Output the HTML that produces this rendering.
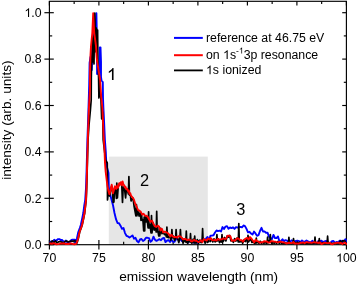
<!DOCTYPE html>
<html><head><meta charset="utf-8"><title>spectrum</title>
<style>
html,body{margin:0;padding:0;background:#fff;}
body{width:357px;height:285px;overflow:hidden;font-family:"Liberation Sans",sans-serif;}
svg{display:block;will-change:transform;}
text{font-family:"Liberation Sans",sans-serif;fill:#000;}
</style></head><body>
<svg width="357" height="285" viewBox="0 0 357 285">
<rect x="0" y="0" width="357" height="285" fill="#fff"/>
<rect x="108.8" y="156.6" width="99.0" height="88.1" fill="#e6e6e6"/>
<g stroke="#000" stroke-width="1.15" fill="none">
<rect x="49.4" y="1.3" width="297.0" height="243.39999999999998"/>
<line x1="49.40" y1="240" x2="49.40" y2="249.5"/><line x1="49.40" y1="1.3" x2="49.40" y2="5.6"/><line x1="74.15" y1="241.8" x2="74.15" y2="244.7"/><line x1="74.15" y1="1.3" x2="74.15" y2="4.0"/><line x1="98.90" y1="240" x2="98.90" y2="249.5"/><line x1="98.90" y1="1.3" x2="98.90" y2="5.6"/><line x1="123.65" y1="241.8" x2="123.65" y2="244.7"/><line x1="123.65" y1="1.3" x2="123.65" y2="4.0"/><line x1="148.40" y1="240" x2="148.40" y2="249.5"/><line x1="148.40" y1="1.3" x2="148.40" y2="5.6"/><line x1="173.15" y1="241.8" x2="173.15" y2="244.7"/><line x1="173.15" y1="1.3" x2="173.15" y2="4.0"/><line x1="197.90" y1="240" x2="197.90" y2="249.5"/><line x1="197.90" y1="1.3" x2="197.90" y2="5.6"/><line x1="222.65" y1="241.8" x2="222.65" y2="244.7"/><line x1="222.65" y1="1.3" x2="222.65" y2="4.0"/><line x1="247.40" y1="240" x2="247.40" y2="249.5"/><line x1="247.40" y1="1.3" x2="247.40" y2="5.6"/><line x1="272.15" y1="241.8" x2="272.15" y2="244.7"/><line x1="272.15" y1="1.3" x2="272.15" y2="4.0"/><line x1="296.90" y1="240" x2="296.90" y2="249.5"/><line x1="296.90" y1="1.3" x2="296.90" y2="5.6"/><line x1="321.65" y1="241.8" x2="321.65" y2="244.7"/><line x1="321.65" y1="1.3" x2="321.65" y2="4.0"/><line x1="346.40" y1="240" x2="346.40" y2="249.5"/><line x1="346.40" y1="1.3" x2="346.40" y2="5.6"/><line x1="44.4" y1="244.70" x2="53.8" y2="244.70"/><line x1="342.2" y1="244.70" x2="346.4" y2="244.70"/><line x1="49.4" y1="221.50" x2="52.2" y2="221.50"/><line x1="343.8" y1="221.50" x2="346.4" y2="221.50"/><line x1="44.4" y1="198.30" x2="53.8" y2="198.30"/><line x1="342.2" y1="198.30" x2="346.4" y2="198.30"/><line x1="49.4" y1="175.10" x2="52.2" y2="175.10"/><line x1="343.8" y1="175.10" x2="346.4" y2="175.10"/><line x1="44.4" y1="151.90" x2="53.8" y2="151.90"/><line x1="342.2" y1="151.90" x2="346.4" y2="151.90"/><line x1="49.4" y1="128.70" x2="52.2" y2="128.70"/><line x1="343.8" y1="128.70" x2="346.4" y2="128.70"/><line x1="44.4" y1="105.50" x2="53.8" y2="105.50"/><line x1="342.2" y1="105.50" x2="346.4" y2="105.50"/><line x1="49.4" y1="82.30" x2="52.2" y2="82.30"/><line x1="343.8" y1="82.30" x2="346.4" y2="82.30"/><line x1="44.4" y1="59.10" x2="53.8" y2="59.10"/><line x1="342.2" y1="59.10" x2="346.4" y2="59.10"/><line x1="49.4" y1="35.90" x2="52.2" y2="35.90"/><line x1="343.8" y1="35.90" x2="346.4" y2="35.90"/><line x1="44.4" y1="12.70" x2="53.8" y2="12.70"/><line x1="342.2" y1="12.70" x2="346.4" y2="12.70"/>
</g>
<clipPath id="cp"><rect x="49.4" y="0" width="297.5" height="250"/></clipPath>
<g fill="none" stroke-linejoin="round" stroke-linecap="round" clip-path="url(#cp)">
<path d="M49.0,241.9 L50.3,241.7 L51.6,241.8 L52.9,241.5 L54.2,239.8 L55.5,240.8 L56.8,240.2 L58.1,239.1 L59.4,239.1 L60.7,240.0 L62.0,239.9 L63.3,241.4 L64.6,242.3 L65.9,240.5 L67.2,242.2 L68.5,242.4 L69.8,242.2 L71.1,240.2 L72.4,239.7 L73.7,239.8 L75.0,239.7 L75.0,241.5 L75.6,242.5 L76.8,239.0 L78.3,232.0 L79.8,228.0 L80.8,225.0 L82.3,218.0 L83.3,213.0 L84.2,206.0 L85.2,200.0 L86.0,188.0 L86.6,170.0 L87.4,140.0 L87.9,126.0 L88.5,108.0 L89.2,85.0 L89.6,63.0 L90.5,57.0 L91.8,70.0 L92.5,45.0 L92.8,38.0 L95.6,27.0 L96.4,13.2 L96.9,40.0 L97.1,74.0 L99.2,72.0 L99.8,47.4 L100.5,47.4 L101.0,62.0 L101.0,77.0 L101.5,80.5 L102.8,82.0 L103.0,98.0 L103.4,108.0 L104.0,120.0 L104.9,140.0 L105.8,152.0 L106.3,163.0 L107.2,168.0 L108.5,173.0 L108.8,187.0 L110.0,194.0 L113.0,205.2 L114.5,213.0 L116.0,219.2 L117.5,223.0 L119.0,223.2 L120.5,225.7 L122.0,228.8 L123.5,228.0 L125.0,233.1 L126.5,235.8 L128.0,236.4 L129.5,237.5 L131.0,236.5 L132.5,235.4 L134.0,238.7 L135.5,237.8 L137.0,241.0 L138.5,242.4 L140.0,239.5 L141.5,239.0 L143.0,241.0 L144.5,239.9 L146.0,237.7 L147.5,237.8 L149.0,238.2 L150.5,241.8 L152.0,240.5 L153.5,236.7 L155.0,239.8 L156.5,240.9 L158.0,240.0 L159.5,239.2 L161.0,240.2 L162.5,238.4 L164.0,237.9 L165.5,242.1 L167.0,240.7 L168.5,240.1 L170.0,241.9 L171.5,239.8 L173.0,241.8 L174.5,241.7 L176.0,239.0 L177.5,239.3 L179.0,239.5 L180.5,239.4 L182.0,241.0 L183.5,239.6 L185.0,240.4 L186.5,239.2 L188.0,242.7 L189.5,240.3 L191.0,240.8 L192.5,241.4 L194.0,242.8 L195.5,240.7 L197.0,242.8 L198.5,241.0 L200.0,241.1 L201.5,240.9 L203.0,238.5 L204.5,240.1 L206.0,238.7 L207.5,236.9 L209.0,240.3 L210.5,235.6 L212.0,235.5 L213.5,235.2 L215.0,232.5 L216.5,230.5 L218.0,231.1 L219.5,230.7 L221.0,231.5 L222.5,227.1 L224.0,229.0 L225.5,226.6 L227.0,226.1 L228.5,228.7 L230.0,227.5 L231.5,228.1 L233.0,227.3 L234.5,228.9 L236.0,227.1 L237.5,227.6 L239.0,227.0 L240.5,226.9 L242.0,227.4 L243.5,225.5 L245.0,226.1 L246.5,228.9 L248.0,232.3 L249.5,231.8 L251.0,233.5 L252.5,234.6 L254.0,231.6 L255.5,233.4 L257.0,235.8 L258.5,235.1 L260.0,231.0 L261.5,227.8 L263.0,231.5 L264.5,231.4 L266.0,232.8 L267.5,232.7 L269.0,236.7 L270.5,238.1 L272.0,239.0 L273.5,234.9 L275.0,238.0 L276.5,238.1 L278.0,236.4 L279.5,241.7 L281.0,241.0 L282.5,239.3 L284.0,241.3 L285.5,240.1 L287.0,240.6 L288.5,242.1 L290.0,241.9 L291.5,240.3 L293.0,241.2 L294.5,241.4 L296.0,241.0 L297.5,240.7 L299.0,241.1 L300.5,242.2 L302.0,240.4 L303.5,241.8 L305.0,241.6 L306.5,240.5 L308.0,241.4 L309.5,242.2 L311.0,241.9 L312.5,240.8 L314.0,243.2 L315.5,242.6 L317.0,243.1 L318.5,240.9 L320.0,241.3 L321.5,240.7 L323.0,242.6 L324.5,241.3 L326.0,240.9 L327.5,241.7 L329.0,243.0 L330.5,242.7 L332.0,241.3 L333.5,241.0 L335.0,243.0 L336.5,242.0 L338.0,242.4 L339.5,240.8 L341.0,240.7 L342.5,242.3 L344.0,241.0 L345.5,239.2 L347.0,241.6" stroke="#0000ff" stroke-width="1.9"/>
<path d="M49.0,242.3 L50.6,242.7 L52.2,240.9 L53.8,242.8 L55.4,240.9 L57.0,242.9 L58.6,241.8 L60.2,241.5 L61.8,242.1 L63.4,243.0 L65.0,241.4 L66.6,241.0 L68.2,242.0 L69.8,241.3 L71.4,241.0 L73.0,241.1 L74.6,240.8 L76.2,241.2 L77.0,243.0 L78.2,239.0 L79.7,232.0 L81.2,228.0 L82.2,225.0 L83.7,218.0 L84.7,213.0 L85.5,206.0 L86.2,200.0 L86.7,188.0 L87.2,170.0 L88.0,140.0 L89.0,125.0 L90.4,110.0 L91.2,100.0 L91.3,78.0 L91.6,64.0 L92.0,55.0 L92.5,38.0 L93.0,62.0 L93.5,36.0 L94.0,64.0 L94.4,30.0 L94.8,13.2 L95.3,40.0 L95.9,52.0 L96.3,28.0 L96.8,58.0 L97.6,30.0 L97.9,60.0 L98.2,68.0 L98.6,78.0 L98.9,98.0 L99.4,78.0 L100.2,92.0 L101.0,100.0 L101.7,119.0 L102.6,112.0 L103.2,140.0 L104.4,150.0 L105.6,160.0 L107.3,163.0 L107.4,180.0 L107.5,200.0 L108.4,192.0 L109.6,196.0 L110.4,191.0 L111.7,186.0 L112.6,193.0 L113.2,202.5 L113.9,202.0 L114.6,188.0 L115.6,187.0 L116.4,198.5 L116.8,183.0 L117.4,198.0 L118.2,187.0 L119.5,184.0 L120.8,183.0 L121.8,186.0 L122.5,202.5 L123.2,187.0 L124.3,187.0 L125.6,198.0 L126.4,189.0 L127.5,190.0 L128.4,194.0 L128.9,176.5 L129.4,195.0 L130.4,195.5 L131.1,201.0 L131.8,199.0 L133.0,198.1 L134.2,206.8 L135.9,215.8 L136.4,204.6 L136.9,215.8 L137.8,210.8 L139.1,216.1 L140.3,212.4 L141.0,220.3 L141.5,213.6 L142.0,220.3 L142.9,219.7 L143.7,231.0 L144.2,217.0 L144.7,231.0 L144.9,222.0 L145.4,215.8 L145.9,222.0 L146.8,216.7 L148.1,228.0 L148.6,211.9 L149.1,228.0 L150.0,224.5 L151.0,233.0 L151.5,215.5 L152.0,233.0 L152.9,222.6 L154.2,230.1 L155.4,226.7 L156.2,232.0 L156.7,211.3 L157.2,232.0 L158.1,232.1 L158.8,236.0 L159.3,227.0 L159.8,236.0 L160.7,228.3 L162.0,233.7 L163.2,232.6 L164.5,234.6 L165.7,234.1 L166.4,237.0 L166.9,227.0 L167.4,237.0 L168.3,237.7 L169.6,235.1 L170.8,240.1 L171.4,238.0 L171.9,229.5 L172.4,238.0 L173.3,236.1 L174.6,240.4 L175.6,238.0 L176.1,229.5 L176.6,238.0 L177.5,238.0 L178.8,242.6 L179.9,238.0 L180.4,229.5 L180.9,238.0 L181.8,237.9 L183.1,243.3 L184.3,239.8 L185.8,242.0 L186.3,231.0 L186.8,242.0 L187.7,243.3 L189.0,239.8 L190.0,242.0 L190.5,233.7 L191.0,242.0 L191.9,243.3 L193.2,239.2 L194.2,243.0 L194.7,236.0 L195.2,243.0 L196.1,243.1 L197.3,239.5 L198.6,243.3 L199.8,240.2 L201.1,242.7 L202.1,240.5 L202.6,228.7 L203.1,240.5 L204.0,239.5 L205.2,243.2 L206.5,240.5 L207.8,242.4 L209.0,239.1 L210.2,241.5 L211.5,239.1 L212.8,241.9 L214.0,238.8 L215.2,241.9 L216.4,241.0 L216.9,234.6 L217.4,241.0 L218.3,238.8 L219.6,242.6 L220.8,240.0 L221.5,242.0 L222.0,234.6 L222.5,242.0 L223.4,241.1 L224.7,237.5 L225.9,241.0 L227.2,235.9 L228.4,237.1 L229.7,235.4 L230.9,240.9 L232.2,240.4 L233.4,242.3 L234.7,238.6 L235.9,241.1 L237.2,237.8 L238.3,242.0 L238.8,223.6 L239.3,242.0 L240.2,241.8 L241.5,240.7 L242.7,243.3 L244.0,240.0 L245.2,241.5 L246.5,239.1 L247.5,242.0 L248.0,235.4 L248.5,242.0 L249.4,240.4 L250.7,239.0 L251.9,242.5 L253.2,241.5 L254.4,243.3 L255.8,243.0 L256.3,238.0 L256.8,243.0 L257.7,241.8 L258.9,243.3 L260.2,241.3 L261.4,243.3 L262.7,242.6 L263.9,243.3 L265.2,242.1 L266.4,243.3 L267.1,243.0 L267.6,237.0 L268.1,243.0 L269.0,240.9 L269.8,242.0 L270.3,234.6 L270.8,242.0 L271.7,243.3 L272.9,242.7 L274.2,243.3 L275.4,242.6 L276.7,243.3 L277.9,241.5 L279.2,243.3 L280.4,242.4 L281.7,243.3 L282.9,243.1 L284.2,243.3 L285.4,242.8 L286.7,243.3 L288.4,243.0 L288.9,237.3 L289.4,243.0 L290.3,243.1 L291.5,243.3 L293.0,243.0 L293.5,238.5 L294.0,243.0 L294.9,242.3 L296.1,243.3 L297.4,242.2 L298.6,243.3 L299.9,242.2 L301.1,243.3 L302.4,243.2 L303.6,243.3 L304.9,243.3 L306.1,243.3 L307.4,243.1 L308.6,243.3 L309.9,243.3 L311.1,243.3 L312.4,243.2 L313.6,243.3 L314.5,243.0 L315.0,237.0 L315.5,243.0 L316.4,243.3 L317.6,243.3 L318.8,243.0 L319.3,238.5 L319.8,243.0 L320.7,243.3 L321.9,243.3 L323.2,242.5 L324.4,243.3 L325.7,243.3 L327.1,243.0 L327.6,236.2 L328.1,243.0 L329.0,243.3 L330.2,243.3 L331.5,243.3 L332.8,243.3 L334.0,243.3 L335.2,243.3 L336.5,243.3 L337.8,243.3 L339.0,243.3 L339.7,243.0 L340.2,240.8 L340.7,243.0 L341.6,242.3 L342.8,240.6 L344.1,240.8 L345.3,241.2" stroke="#000000" stroke-width="1.7"/>
<path d="M49.0,243.7 L50.5,243.3 L52.0,243.8 L53.5,243.1 L55.0,243.7 L56.5,244.3 L58.0,244.1 L59.5,243.9 L61.0,243.4 L62.5,243.5 L64.0,243.3 L65.5,244.0 L67.0,243.7 L68.5,244.0 L70.0,243.5 L71.5,243.4 L73.0,244.1 L74.5,244.3 L76.0,243.8 L76.4,243.5 L78.0,239.0 L79.5,232.0 L81.0,228.0 L82.0,225.0 L83.5,218.0 L84.5,213.0 L85.3,206.0 L86.0,200.0 L86.5,188.0 L87.0,170.0 L87.8,140.0 L88.9,108.0 L89.9,90.0 L90.0,78.0 L90.1,68.0 L90.5,55.0 L91.0,46.0 L92.3,33.0 L93.2,13.2 L94.2,33.0 L96.0,46.0 L96.9,60.0 L98.2,68.0 L100.1,80.0 L101.3,98.0 L102.4,108.0 L103.6,135.0 L104.5,150.0 L105.0,163.0 L105.7,172.0 L107.3,185.0 L108.5,191.1 L109.4,194.2 L110.4,190.5 L111.7,184.8 L113.0,193.3 L115.0,186.3 L116.2,188.9 L117.3,185.5 L118.0,187.7 L119.2,183.2 L120.2,184.6 L120.9,182.1 L122.0,185.3 L122.6,181.4 L123.4,184.6 L124.2,185.3 L124.8,187.6 L125.5,186.8 L126.3,189.3 L127.0,188.6 L128.2,191.3 L128.8,190.5 L129.5,193.7 L130.3,193.2 L131.0,195.5 L132.4,197.3 L133.8,199.3 L135.2,203.7 L136.6,206.5 L138.0,210.0 L139.4,210.7 L140.8,211.8 L142.2,214.6 L143.6,213.8 L145.0,215.7 L146.4,215.7 L147.8,217.0 L149.2,219.4 L150.6,221.8 L152.0,220.7 L153.4,223.8 L154.8,226.2 L156.2,227.0 L157.6,225.6 L159.0,226.5 L160.4,230.5 L161.8,228.7 L163.2,232.4 L164.6,231.7 L166.0,232.2 L167.4,232.8 L168.8,234.1 L170.2,236.4 L171.6,234.8 L173.0,236.6 L174.4,237.2 L175.8,236.8 L177.2,237.6 L178.6,236.2 L180.0,236.4 L181.4,237.3 L182.8,239.3 L184.2,239.0 L185.6,239.0 L187.0,240.1 L188.4,239.8 L189.8,239.5 L191.2,241.3 L192.6,241.2 L194.0,239.8 L195.4,240.9 L196.8,240.9 L198.2,242.1 L199.6,241.7 L201.0,240.2 L202.4,242.2 L203.8,239.1 L205.2,239.8 L206.6,240.6 L208.0,238.5 L209.4,239.5 L210.8,238.1 L212.2,240.1 L213.6,240.4 L215.0,239.7 L216.4,240.6 L217.8,238.7 L219.2,239.8 L220.6,239.4 L222.0,239.3 L223.4,238.3 L224.8,239.0 L226.2,238.7 L227.6,235.7 L229.0,235.7 L230.4,236.4 L231.8,240.8 L233.2,240.4 L234.6,240.8 L236.0,239.5 L237.4,238.2 L238.8,238.8 L240.2,240.3 L241.6,240.2 L243.0,241.7 L244.4,239.5 L245.8,238.5 L247.2,237.8 L248.6,239.6 L250.0,237.0 L251.4,238.7 L252.8,240.5 L254.2,242.3 L255.6,239.8 L257.0,241.1 L258.4,241.5 L259.8,242.7 L261.2,242.1 L262.6,242.2 L264.0,241.2 L265.4,241.5 L266.8,241.4 L268.2,242.4 L269.6,242.6 L271.0,241.2 L272.4,241.3 L273.8,241.5 L275.2,241.6 L276.6,242.1 L278.0,242.4 L279.4,241.9 L280.8,241.5 L282.2,242.3 L283.6,242.3 L285.0,242.7 L286.4,243.5 L287.8,243.0 L289.2,242.7 L290.6,243.0 L292.0,243.1 L293.4,242.0 L294.8,243.6 L296.2,243.4 L297.6,243.6 L299.0,243.5 L300.4,242.8 L301.8,242.8 L303.2,242.3 L304.6,243.3 L306.0,242.3 L307.4,242.3 L308.8,242.6 L310.2,242.5 L311.6,242.9 L313.0,242.4 L314.4,242.3 L315.8,242.6 L317.2,242.5 L318.6,243.0 L320.0,242.4 L321.4,244.0 L322.8,243.5 L324.2,242.7 L325.6,242.9 L327.0,243.1 L328.4,243.1 L329.8,242.7 L331.2,244.0 L332.6,244.2 L334.0,243.3 L335.4,243.4 L336.8,242.7 L338.2,242.7 L339.6,243.2 L341.0,243.0 L342.4,244.1 L343.8,242.9 L345.2,242.6 L346.6,244.2" stroke="#ff0000" stroke-width="1.9"/>
</g>
<g font-size="12.3px"><text x="49.4" y="262.3" text-anchor="middle">70</text><text x="98.9" y="262.3" text-anchor="middle">75</text><text x="148.4" y="262.3" text-anchor="middle">80</text><text x="197.9" y="262.3" text-anchor="middle">85</text><text x="247.4" y="262.3" text-anchor="middle">90</text><text x="296.9" y="262.3" text-anchor="middle">95</text><path transform="translate(336.14,262.30) scale(12.3)" d="M0.373,0 L0.285,0 L0.285,-0.560 C0.264,-0.540 0.236,-0.520 0.202,-0.500 C0.168,-0.480 0.137,-0.464 0.109,-0.454 L0.109,-0.539 C0.159,-0.562 0.202,-0.590 0.239,-0.623 C0.276,-0.656 0.302,-0.688 0.317,-0.719 L0.373,-0.719 Z" fill="#000"/><text x="342.98" y="262.3">00</text><text x="41.6" y="249.0" text-anchor="end">0.0</text><text x="41.6" y="202.6" text-anchor="end">0.2</text><text x="41.6" y="156.2" text-anchor="end">0.4</text><text x="41.6" y="109.8" text-anchor="end">0.6</text><text x="41.6" y="63.4" text-anchor="end">0.8</text><path transform="translate(24.50,17.00) scale(12.3)" d="M0.373,0 L0.285,0 L0.285,-0.560 C0.264,-0.540 0.236,-0.520 0.202,-0.500 C0.168,-0.480 0.137,-0.464 0.109,-0.454 L0.109,-0.539 C0.159,-0.562 0.202,-0.590 0.239,-0.623 C0.276,-0.656 0.302,-0.688 0.317,-0.719 L0.373,-0.719 Z" fill="#000"/><text x="41.6" y="17.0" text-anchor="end">.0</text></g>
<text x="198.7" y="281.4" font-size="13.7px" text-anchor="middle">emission wavelength (nm)</text>
<text transform="translate(11,120.1) rotate(-90)" font-size="13.7px" text-anchor="middle">intensity (arb. units)</text>
<g stroke-width="2" fill="none">
<line x1="174" y1="37.9" x2="202.8" y2="37.9" stroke="#0000ff"/>
<line x1="174" y1="55.2" x2="202.8" y2="55.2" stroke="#ff0000"/>
<line x1="174" y1="70.4" x2="202.8" y2="70.4" stroke="#000" stroke-width="1.8"/>
</g>
<g font-size="12.3px">
<text x="206" y="41.7">reference at 46.75 eV</text>
<text x="206" y="59">on </text><path transform="translate(223.10,59.00) scale(12.3)" d="M0.373,0 L0.285,0 L0.285,-0.560 C0.264,-0.540 0.236,-0.520 0.202,-0.500 C0.168,-0.480 0.137,-0.464 0.109,-0.454 L0.109,-0.539 C0.159,-0.562 0.202,-0.590 0.239,-0.623 C0.276,-0.656 0.302,-0.688 0.317,-0.719 L0.373,-0.719 Z" fill="#000"/><text x="229.94" y="59">s</text><text x="236.09" y="53.5" font-size="8.5px">-</text><path transform="translate(238.92,53.50) scale(8.5)" d="M0.373,0 L0.285,0 L0.285,-0.560 C0.264,-0.540 0.236,-0.520 0.202,-0.500 C0.168,-0.480 0.137,-0.464 0.109,-0.454 L0.109,-0.539 C0.159,-0.562 0.202,-0.590 0.239,-0.623 C0.276,-0.656 0.302,-0.688 0.317,-0.719 L0.373,-0.719 Z" fill="#000"/><text x="243.64" y="59">3p resonance</text>
<path transform="translate(206.00,74.30) scale(12.3)" d="M0.373,0 L0.285,0 L0.285,-0.560 C0.264,-0.540 0.236,-0.520 0.202,-0.500 C0.168,-0.480 0.137,-0.464 0.109,-0.454 L0.109,-0.539 C0.159,-0.562 0.202,-0.590 0.239,-0.623 C0.276,-0.656 0.302,-0.688 0.317,-0.719 L0.373,-0.719 Z" fill="#000"/><text x="212.84" y="74.3">s ionized</text>
</g>
<g font-size="16.4px" text-anchor="middle">
<path d="M113.55,79.9 L111.95,79.9 L111.95,70.7 C111.3,71.4 110.2,72.3 108.8,73 L108.8,71.4 C110.7,70.4 111.9,69.2 112.5,68 L113.55,68 Z" fill="#000"/>
<text x="144.5" y="185.5">2</text>
<text x="240.9" y="215">3</text>
</g>
</svg>
</body></html>
